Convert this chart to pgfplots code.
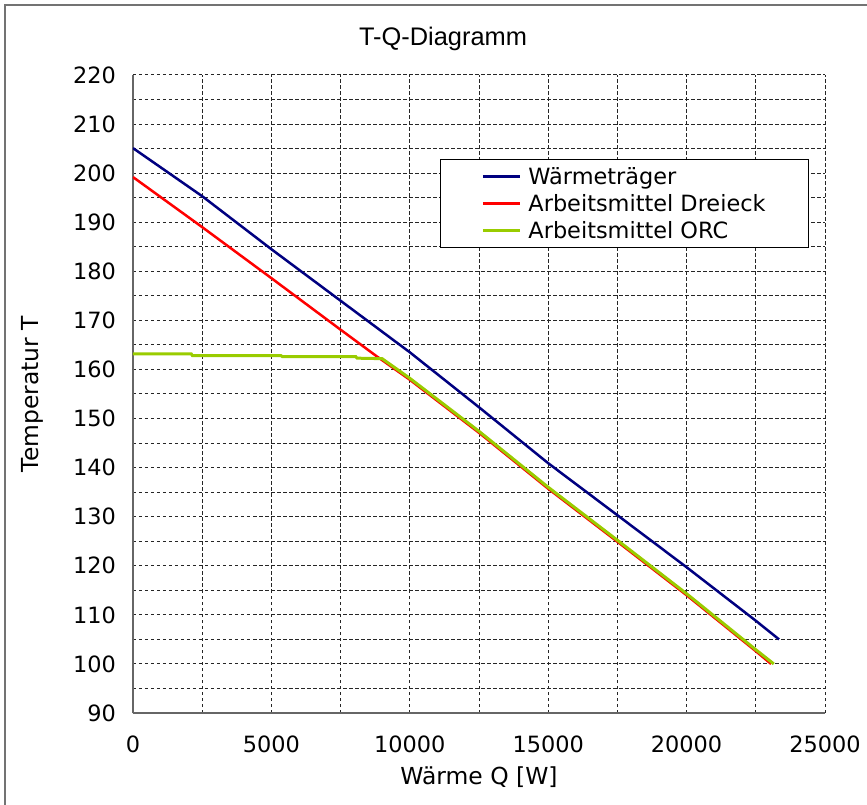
\documentclass[border=0pt]{standalone}
\usepackage{fontspec}
\setmainfont{DejaVu Sans}
\newfontfamily\titlefont{Liberation Sans}
\usepackage{pgfplots}
\pgfplotsset{compat=1.18}
\definecolor{wblue}{RGB}{0,0,128}
\definecolor{ared}{RGB}{255,0,0}
\definecolor{orcgreen}{RGB}{153,204,0}
\begin{document}
\begin{tikzpicture}
\useasboundingbox (-133bp,-92bp) rectangle (734bp,713bp);
\draw[black!55, line width=1.5bp] (-128bp,-92bp) -- (-128bp,708bp) -- (734bp,708bp);
\begin{axis}[
  at={(0,0)}, anchor=south west,
  scale only axis, width=692bp, height=638bp,
  xmin=0, xmax=25000, ymin=90, ymax=220,
  xtick={0,5000,...,25000}, ytick={90,100,...,220},
  minor xtick={2500,7500,...,22500}, minor ytick={95,105,...,215},
  grid=both,
  major grid style={black!85, line width=1bp, dash pattern=on 3.5bp off 2.5bp},
  minor grid style={black!85, line width=1bp, dash pattern=on 3.5bp off 2.5bp},
  axis x line*=bottom, axis y line*=left,
  axis line style={-, line width=2bp, draw=black!60},
  major tick length=0pt, minor tick length=0pt,
  tick style={draw=none},
  scaled x ticks=false,
  /pgf/number format/assume math mode=true,
  /pgf/number format/1000 sep={},
  tick label style={font=\fontsize{22.5}{26}\selectfont},
  xticklabel style={inner sep=0pt, anchor=north, yshift=-23bp},
  yticklabel style={inner sep=0pt, anchor=east, xshift=-17bp},
  xlabel={Wärme Q [W]},
  ylabel={Temperatur T},
  label style={font=\fontsize{23.5}{27}\selectfont},
  xlabel style={at={(axis description cs:0.5,-0.1003)}, anchor=center, inner sep=0pt},
  ylabel style={at={(axis description cs:-0.146,0.5)}, anchor=center, inner sep=0pt, rotate=0},
  title={\titlefont T-Q-Diagramm},
  title style={at={(axis description cs:0.448,1.0376)}, anchor=base, inner sep=0pt, font=\fontsize{25.5}{29}\selectfont},
  legend style={at={(axis description cs:0.4436,0.868)}, anchor=north west,
    draw=black, line width=1bp, fill=white,
    font=\fontsize{22.5}{26}\selectfont,
    inner xsep=41bp, inner ysep=5.5bp, row sep=4.5bp, column sep=5bp},
  legend cell align=left,
  legend image code/.code={\draw[#1] (0bp,0bp) -- (37bp,0bp);},
]
\addplot[wblue, line width=2.5bp] coordinates {
(0,205.1) (2500,195.3) (5000,184.5) (7500,174.0) (10000,163.5) (12500,152.3)
(15000,140.9) (17500,130.3) (20000,119.7) (22500,108.8) (23340,105.0)};
\addlegendentry{Wärmeträger}
\addplot[ared, line width=2.5bp] coordinates {
(0,199.2) (2500,189.0) (5000,178.6) (7500,168.1) (8800,162.7) (10000,157.9)
(12500,147.1) (15000,135.7) (17500,124.9) (20000,114.0) (22500,102.6) (23050,100.0)};
\addlegendentry{Arbeitsmittel Dreieck}
\addplot[orcgreen, line width=3bp] coordinates {
(0,163.2) (2100,163.2) (2150,162.8) (5350,162.8) (5400,162.6) (8050,162.6)
(8100,162.3) (9000,162.2) (10000,158.2) (12500,147.4) (15000,136.0)
(17500,125.2) (20000,114.3) (22500,102.9) (23150,100.0)};
\addlegendentry{Arbeitsmittel ORC}
\end{axis}
\end{tikzpicture}
\end{document}
